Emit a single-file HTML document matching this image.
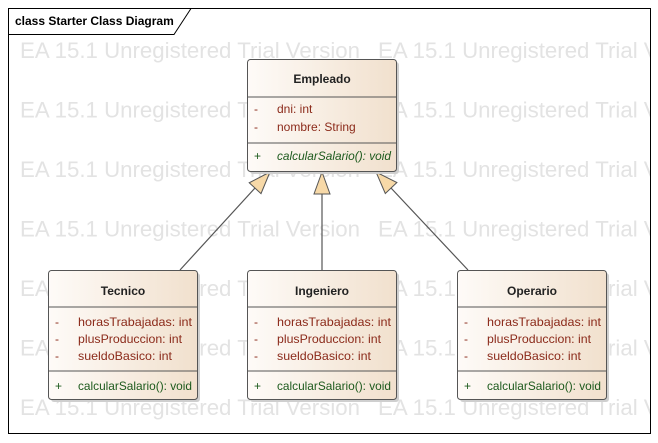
<!DOCTYPE html>
<html><head><meta charset="utf-8"><style>
html,body{margin:0;padding:0;background:#fff;width:658px;height:443px;overflow:hidden}
svg text{font-family:"Liberation Sans",sans-serif}
</style></head><body>
<svg width="658" height="443" viewBox="0 0 658 443" xmlns="http://www.w3.org/2000/svg">
<defs>
<linearGradient id="g" x1="0" y1="0" x2="1" y2="0">
<stop offset="0" stop-color="#fefbf8"/><stop offset="1" stop-color="#f1e0cd"/>
</linearGradient>
<clipPath id="fc"><rect x="9" y="9" width="641" height="424"/></clipPath>
</defs>
<g clip-path="url(#fc)" fill="#e3e3e3" font-size="22">
<g id="row">
<text x="20" y="58" textLength="340" lengthAdjust="spacingAndGlyphs">EA 15.1 Unregistered Trial Version</text>
<text x="378" y="58" textLength="340" lengthAdjust="spacingAndGlyphs">EA 15.1 Unregistered Trial Version</text>
</g>
<use href="#row" y="59.5"/><use href="#row" y="119"/><use href="#row" y="178.5"/><use href="#row" y="238"/><use href="#row" y="297.5"/><use href="#row" y="357"/>
</g>
<rect x="8.5" y="8.5" width="642" height="425" fill="none" stroke="#000" stroke-width="1"/>
<path d="M8.5 34.5 H174 L191 8.5" fill="none" stroke="#000"/>
<text x="15" y="25" font-size="12" font-weight="bold" fill="#000">class Starter Class Diagram</text>

<g stroke="#555" stroke-width="1.2" fill="none">
<line x1="255" y1="188" x2="180" y2="270"/>
<line x1="322" y1="194" x2="322" y2="270"/>
<line x1="391" y1="188" x2="468" y2="270"/>
</g>
<g fill="#f7d9a8" stroke="#555" stroke-width="1">
<polygon points="270,172 261,193.6 249.2,182.8"/>
<polygon points="322,172 314,194 330,194"/>
<polygon points="376,172 396.9,182.5 385.3,193.5"/>
</g>

<g font-size="12">
<!-- Empleado -->
<rect x="250" y="62" width="149" height="112" rx="3" fill="#cfcfcf"/>
<rect x="247.5" y="59.5" width="149" height="112" rx="3" fill="url(#g)" stroke="#555"/>
<line x1="247.5" y1="97" x2="396.5" y2="97" stroke="#555"/>
<line x1="247.5" y1="143" x2="396.5" y2="143" stroke="#555"/>
<text x="322" y="83" text-anchor="middle" font-weight="bold" fill="#222">Empleado</text>
<text x="254" y="113" fill="#8b2a1a">-</text><text x="277" y="113" fill="#8b2a1a">dni: int</text>
<text x="254" y="131" fill="#8b2a1a">-</text><text x="277" y="131" fill="#8b2a1a">nombre: String</text>
<text x="254" y="160" fill="#1d5a1d">+</text><text x="277" y="160" fill="#1d5a1d" font-style="italic" textLength="114" lengthAdjust="spacingAndGlyphs">calcularSalario(): void</text>

<g id="sub">
<rect x="51" y="273" width="149" height="129" rx="3" fill="#cfcfcf"/>
<rect x="48.5" y="270.5" width="149" height="129" rx="3" fill="url(#g)" stroke="#555"/>
<line x1="48.5" y1="307" x2="197.5" y2="307" stroke="#555"/>
<line x1="48.5" y1="371" x2="197.5" y2="371" stroke="#555"/>
<text x="55" y="326" fill="#8b2a1a">-</text><text x="78" y="326" fill="#8b2a1a" textLength="114" lengthAdjust="spacingAndGlyphs">horasTrabajadas: int</text>
<text x="55" y="343" fill="#8b2a1a">-</text><text x="78" y="343" fill="#8b2a1a" textLength="104" lengthAdjust="spacingAndGlyphs">plusProduccion: int</text>
<text x="55" y="360" fill="#8b2a1a">-</text><text x="78" y="360" fill="#8b2a1a" textLength="94" lengthAdjust="spacingAndGlyphs">sueldoBasico: int</text>
<text x="55" y="390" fill="#1d5a1d">+</text><text x="78" y="390" fill="#1d5a1d" textLength="114" lengthAdjust="spacingAndGlyphs">calcularSalario(): void</text>
</g>
<use href="#sub" x="199"/>
<use href="#sub" x="409"/>
<text x="123" y="295" text-anchor="middle" font-weight="bold" fill="#222">Tecnico</text>
<text x="322" y="295" text-anchor="middle" font-weight="bold" fill="#222">Ingeniero</text>
<text x="532" y="295" text-anchor="middle" font-weight="bold" fill="#222">Operario</text>
</g>
</svg>
</body></html>
